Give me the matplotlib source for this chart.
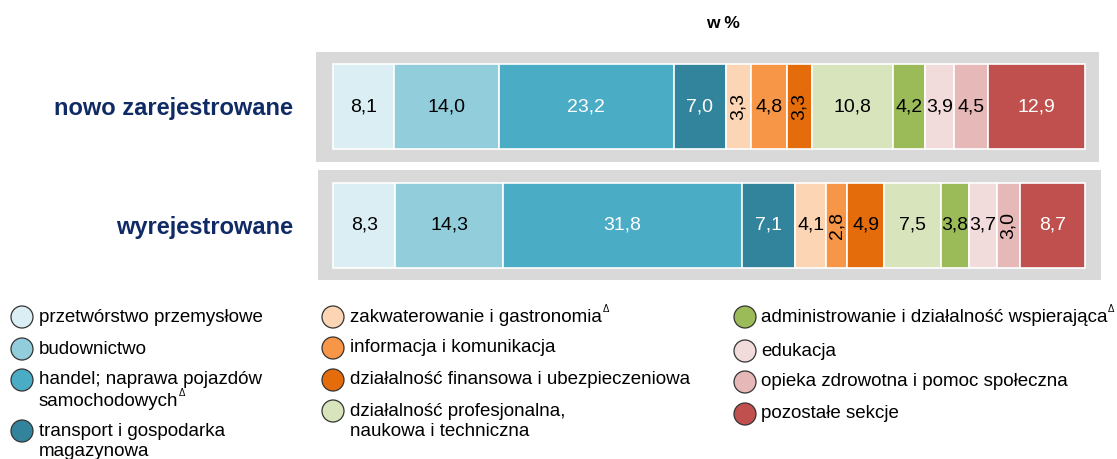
import matplotlib.pyplot as plt
from matplotlib.patches import Rectangle, Ellipse

plt.rcParams['font.family'] = ['Liberation Sans', 'DejaVu Sans']

# dane (w %)
rows = ["nowo zarejestrowane", "wyrejestrowane"]
nowo = [8.1, 14.0, 23.2, 7.0, 3.3, 4.8, 3.3, 10.8, 4.2, 3.9, 4.5, 12.9]
wyrej = [8.3, 14.3, 31.8, 7.1, 4.1, 2.8, 4.9, 7.5, 3.8, 3.7, 3.0, 8.7]
sekcje = [
    "przetwórstwo przemysłowe",
    "budownictwo",
    "handel; naprawa pojazdów\nsamochodowych",
    "transport i gospodarka\nmagazynowa",
    "zakwaterowanie i gastronomia",
    "informacja i komunikacja",
    "działalność finansowa i ubezpieczeniowa",
    "działalność profesjonalna,\nnaukowa i techniczna",
    "administrowanie i działalność wspierająca",
    "edukacja",
    "opieka zdrowotna i pomoc społeczna",
    "pozostałe sekcje",
]
delta = [2, 4, 8]  # sekcje z oznaczeniem Δ
kolory = ["#DAEEF3", "#92CDDC", "#4BACC6", "#31849B", "#FCD5B4", "#F79646",
          "#E46C0A", "#D7E4BC", "#9BBB59", "#F2DCDB", "#E6B9B8", "#C0504D"]
biale = [2, 3, 11]  # segmenty z bialym tekstem

W, H = 1117, 459
fig = plt.figure(figsize=(W / 100, H / 100), dpi=100)
ax = fig.add_axes([0, 0, 1, 1])
# os x: 0..100 % -> piksele 333..1085, os y w pikselach
skala = (1085 - 333) / 100
ax.set_xlim(-333 / skala, (W - 333) / skala)
ax.set_ylim(H, 0)
ax.axis("off")

# szare tla pod paskami
ax.add_patch(Rectangle((-2.3, 52), 104.2, 110, facecolor="#D9D9D9", edgecolor="none", zorder=0))
ax.add_patch(Rectangle((-2.0, 170), 104.1, 110, facecolor="#D9D9D9", edgecolor="none", zorder=0))

y_pos = [106.5, 225.5]
for y, vals in zip(y_pos, [nowo, wyrej]):
    left = 0
    for i, v in enumerate(vals):
        ax.barh(y, v, left=left, height=85, color=kolory[i], edgecolor="white",
                linewidth=1.2, zorder=2)
        txt = f"{v:.1f}".replace(".", ",")
        kolor_txt = "white" if i in biale else "black"
        rot = 90 if v < 3.5 else 0
        ax.text(left + v / 2, y, txt, ha="center", va="center", fontsize=14,
                color=kolor_txt, rotation=rot, zorder=3)
        left += v

for y, lab in zip(y_pos, rows):
    fig.text(293 / W, 1 - (y + 2) / H, lab, ha="right", va="center", fontsize=17,
             fontweight="bold", color="#102A66")

fig.text(723 / W, 1 - 24 / H, "w %", ha="center", va="center", fontsize=12.5,
         fontweight="bold")

# legenda
kol_x = [(22, 39), (333, 350), (745, 761)]
rzedy = [[317, 349, 380, 431], [317, 348, 380, 411], [317, 351, 382, 414]]
for k in range(12):
    c = k // 4
    r = k % 4
    cx, tx = kol_x[c]
    cy = rzedy[c][r]
    fig.add_artist(Ellipse((cx / W, 1 - cy / H), 22 / W, 22 / H,
                           transform=fig.transFigure, facecolor=kolory[k],
                           edgecolor="#333333", linewidth=0.9))
    lines = sekcje[k].split("\n")
    for j, line in enumerate(lines):
        t = fig.text(tx / W, 1 - (cy + j * 21) / H, line, ha="left", va="center",
                     fontsize=13.5)
        if k in delta and j == len(lines) - 1:
            ax.annotate("Δ", xy=(1, 1), xycoords=t, xytext=(0.5, 3),
                        textcoords="offset points", fontsize=7,
                        ha="left", va="top")

fig.savefig("out.png", dpi=100)
